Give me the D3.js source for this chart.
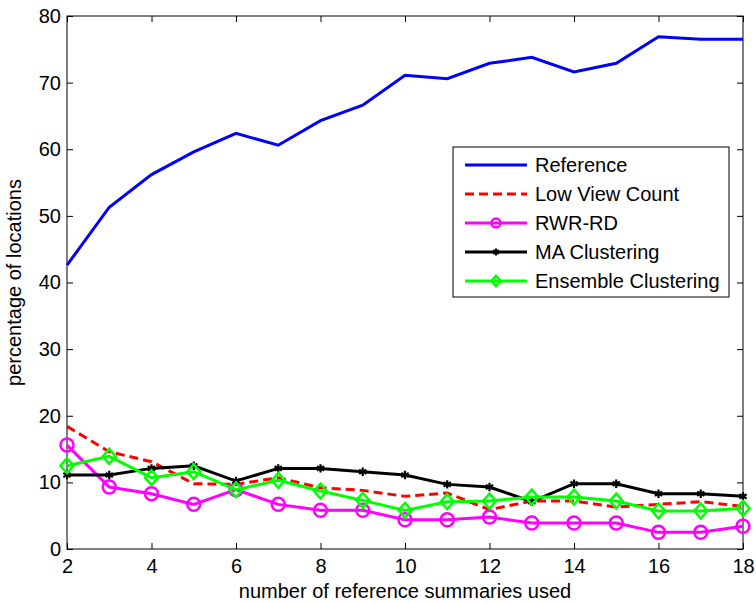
<!DOCTYPE html>
<html>
<head>
<meta charset="utf-8">
<script src="https://cdn.jsdelivr.net/npm/d3@7"></script>
<style>
  body { margin: 0; background: #fff; }
  svg { font-family: "Liberation Sans", Arial, sans-serif; }
</style>
</head>
<body>
<svg width="756" height="603"></svg>
<script>
// number of reference summaries used
const summaries = [2, 3, 4, 5, 6, 7, 8, 9, 10, 11, 12, 13, 14, 15, 16, 17, 18]
const reference = [42.6, 51.3, 56.2, 59.6, 62.4, 60.6, 64.3, 66.6, 71.1, 70.6, 72.9, 73.8, 71.6, 72.9, 76.9, 76.5, 76.5]
const lowViewCount = [18.4, 14.6, 13.1, 9.8, 9.7, 10.7, 9.2, 8.8, 7.9, 8.4, 5.9, 7.2, 7.2, 6.3, 6.7, 7.1, 6.4]
const rwrRd = [15.6, 9.3, 8.3, 6.7, 8.9, 6.7, 5.8, 5.8, 4.4, 4.4, 4.8, 3.9, 3.9, 3.9, 2.5, 2.5, 3.4]
const maClustering = [11.1, 11.1, 12.1, 12.5, 10.2, 12.1, 12.1, 11.6, 11.1, 9.7, 9.3, 7.1, 9.8, 9.8, 8.3, 8.3, 7.9]
const ensemble = [12.5, 13.9, 10.7, 11.6, 8.9, 10.3, 8.7, 7.3, 5.8, 7.1, 7.2, 7.8, 7.8, 7.2, 5.7, 5.7, 6.1]
const xTicks = [2, 4, 6, 8, 10, 12, 14, 16, 18]
const yTicks = [0, 10, 20, 30, 40, 50, 60, 70, 80]

const series = [
  {name: 'Reference', values: reference, color: '#0000ff', dash: null, marker: null},
  {name: 'Low View Count', values: lowViewCount, color: '#ff0000', dash: '9,5', marker: null},
  {name: 'RWR-RD', values: rwrRd, color: '#ff00ff', dash: null, marker: 'circle'},
  {name: 'MA Clustering', values: maClustering, color: '#000000', dash: null, marker: 'star'},
  {name: 'Ensemble Clustering', values: ensemble, color: '#00ff00', dash: null, marker: 'diamond'}
]

const svg = d3.select('svg')
const margin = {top: 16, right: 13, bottom: 54, left: 67}
const width = 756 - margin.left - margin.right
const height = 603 - margin.top - margin.bottom
const group = svg.append('g')
  .attr('transform', 'translate(' + margin.left + ',' + margin.top + ')')

const x = d3.scaleLinear().domain([2, 18]).range([0, width])
const y = d3.scaleLinear().domain([0, 80]).range([height, 0])

// axes, with matlab style inward ticks on all four sides
function styleAxis(g) {
  g.select('.domain').remove()
  g.selectAll('.tick line').attr('stroke', '#000').attr('stroke-width', 1)
  g.selectAll('.tick text').attr('fill', '#000').style('font-size', '20px')
}
group.append('g')
  .attr('transform', 'translate(0,' + height + ')')
  .call(d3.axisBottom(x).tickValues(xTicks).tickSizeInner(-6).tickSizeOuter(0).tickPadding(10))
  .call(styleAxis)
group.append('g')
  .call(d3.axisLeft(y).tickValues(yTicks).tickSizeInner(-6).tickSizeOuter(0).tickPadding(6))
  .call(styleAxis)
group.append('g')
  .call(d3.axisTop(x).tickValues(xTicks).tickSizeInner(-6).tickSizeOuter(0).tickFormat(''))
  .call(styleAxis)
group.append('g')
  .attr('transform', 'translate(' + width + ',0)')
  .call(d3.axisRight(y).tickValues(yTicks).tickSizeInner(-6).tickSizeOuter(0).tickFormat(''))
  .call(styleAxis)
group.append('rect')
  .attr('width', width).attr('height', height)
  .attr('fill', 'none').attr('stroke', '#000').attr('stroke-width', 1)

// axis labels
svg.append('text')
  .attr('x', margin.left + width / 2).attr('y', 598)
  .attr('text-anchor', 'middle').style('font-size', '20px')
  .text('number of reference summaries used')
svg.append('text')
  .attr('transform', 'translate(21,' + (margin.top + height / 2) + ') rotate(-90)')
  .attr('text-anchor', 'middle').style('font-size', '20px')
  .text('percentage of locations')

const line = d3.line().x((d, i) => x(summaries[i])).y(d => y(d))

function drawMarker(sel, type, color, size) {
  if (type === 'circle') {
    sel.append('circle').attr('r', size).attr('fill', 'none')
      .attr('stroke', color).attr('stroke-width', 2.5)
  } else if (type === 'diamond') {
    sel.append('path')
      .attr('d', 'M0,' + (-size * 1.15) + 'L' + size + ',0L0,' + (size * 1.15) + 'L' + (-size) + ',0Z')
      .attr('fill', 'none').attr('stroke', color).attr('stroke-width', 2.5)
  } else if (type === 'star') {
    sel.append('path')
      .attr('d', d3.symbol(d3.symbolAsterisk, size * size * 2)())
      .attr('fill', 'none').attr('stroke', color).attr('stroke-width', 2.2)
  }
}

series.forEach(s => {
  group.append('path')
    .datum(s.values)
    .attr('d', line)
    .attr('fill', 'none')
    .attr('stroke', s.color)
    .attr('stroke-width', 3)
    .attr('stroke-dasharray', s.dash)
  if (s.marker) {
    group.selectAll(null)
      .data(s.values)
      .enter()
      .append('g')
      .attr('transform', (d, i) => 'translate(' + x(summaries[i]) + ',' + y(d) + ')')
      .each(function() { drawMarker(d3.select(this), s.marker, s.color, s.marker === 'star' ? 5 : 6.5) })
  }
})

// legend
const legend = svg.append('g').attr('transform', 'translate(453,147)')
legend.append('rect')
  .attr('width', 276).attr('height', 150)
  .attr('fill', '#fff').attr('stroke', '#000').attr('stroke-width', 1)
const rows = legend.selectAll('.row')
  .data(series)
  .enter()
  .append('g')
  .attr('class', 'row')
  .attr('transform', (d, i) => 'translate(0,' + (18 + i * 29) + ')')
rows.append('line')
  .attr('x1', 12).attr('x2', 74)
  .attr('stroke', d => d.color).attr('stroke-width', 3)
  .attr('stroke-dasharray', d => d.dash)
rows.each(function(d) {
  if (d.marker) {
    const m = d3.select(this).append('g').attr('transform', 'translate(43,0)')
    drawMarker(m, d.marker, d.color, d.marker === 'star' ? 4 : 4.5)
  }
})
rows.append('text')
  .attr('x', 82).attr('dy', '0.36em')
  .style('font-size', '20px')
  .text(d => d.name)
</script>
</body>
</html>
